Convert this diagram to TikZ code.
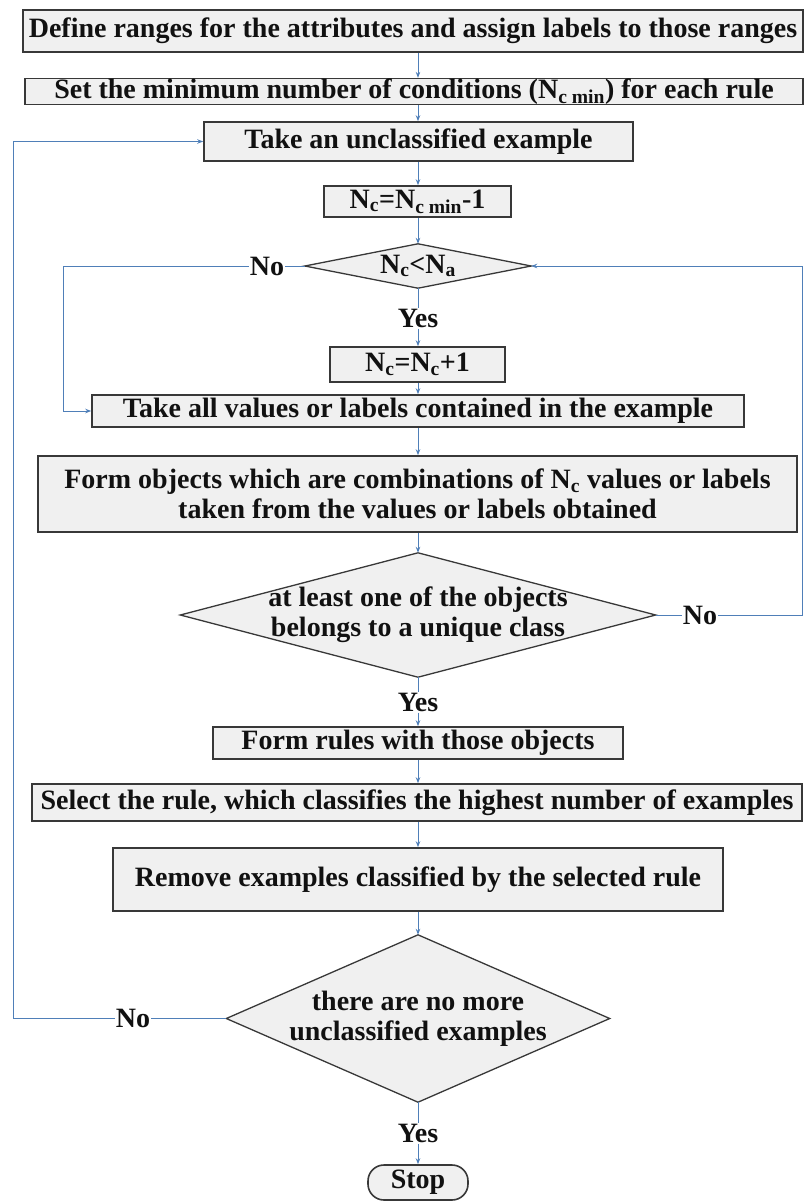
\documentclass[tikz,border=0pt]{standalone}
\usepackage{fontspec}
\setmainfont{Liberation Serif}
\usetikzlibrary{arrows.meta}
\definecolor{boxfill}{HTML}{F0F0F0}
\definecolor{boxline}{HTML}{383838}
\definecolor{linkblue}{HTML}{4F7FB8}
\definecolor{inktext}{HTML}{111111}
\newcommand{\sub}[1]{\textsubscript{#1}}
\begin{document}
\begin{tikzpicture}[x=1pt,y=-1pt,
  every node/.style={font=\fontsize{28}{30}\selectfont\bfseries, text=inktext, inner sep=0pt},
  procbox/.style={draw=boxline, fill=boxfill, line width=1.6pt, align=center},
  decframe/.style={draw=boxline, fill=boxfill, line width=1.3pt, line join=miter},
  answer/.style={inner sep=1pt},
  flow/.style={draw=linkblue, line width=1pt},
  arr/.style={flow, -{Stealth[length=6pt,width=4.5pt]}},
]
\useasboundingbox (0,0) rectangle (804,1202);

% guide lines for the connectors
\coordinate (axis) at (418,0);
\coordinate (leftin) at (63,0);
\coordinate (farleft) at (13,0);
\coordinate (rightrail) at (802,0);

% process boxes
\node[procbox, minimum width=780pt, minimum height=42pt] (define) at (413,31)
  {Define ranges for the attributes and assign labels to those ranges};
\node[procbox, minimum width=778pt, minimum height=25pt] (setmin) at (414,91.5)
  {Set the minimum number of conditions (N\sub{c min}) for each rule};
\node[procbox, minimum width=429pt, minimum height=39pt] (take) at (418.5,141.5)
  {Take an unclassified example};
\node[procbox, minimum width=187pt, minimum height=31pt] (init) at (417.5,201.5)
  {N\sub{c}=N\sub{c min}-1};

% decision 1
\node[minimum width=226pt, minimum height=44pt] (d1) at (418,266) {};
\draw[decframe] (d1.north) -- (d1.east) -- (d1.south) -- (d1.west) -- cycle;
\node (d1t) at (d1) {N\sub{c}<N\sub{a}};

\node[procbox, minimum width=175pt, minimum height=35pt] (incr) at (417.5,364.5)
  {N\sub{c}=N\sub{c}+1};
\node[procbox, minimum width=652pt, minimum height=32pt] (takeall) at (418,411)
  {Take all values or labels contained in the example};
\node[procbox, minimum width=759pt, minimum height=76pt] (form) at (417.5,494)
  {Form objects which are combinations of N\sub{c} values or labels\\
   taken from the values or labels obtained};

% decision 2
\node[minimum width=475pt, minimum height=124pt] (d2) at (418,615) {};
\draw[decframe] (d2.north) -- (d2.east) -- (d2.south) -- (d2.west) -- cycle;
\node[align=center] (d2t) at (d2) {at least one of the objects\\belongs to a unique class};

\node[procbox, minimum width=410pt, minimum height=32pt] (rules) at (418,743)
  {Form rules with those objects};
\node[procbox, minimum width=770pt, minimum height=37pt] (select) at (417,802.5)
  {Select the rule, which classifies the highest number of examples};
\node[procbox, minimum width=610pt, minimum height=63pt] (remove) at (418,879.5)
  {Remove examples classified by the selected rule};

% decision 3
\node[minimum width=383pt, minimum height=167pt] (d3) at (418,1018.5) {};
\draw[decframe] (d3.north) -- (d3.east) -- (d3.south) -- (d3.west) -- cycle;
\node[align=center] (d3t) at (d3) {there are no more\\unclassified examples};

\node[procbox, rounded corners=16pt, minimum width=100pt, minimum height=35pt] (stop) at (418,1182.5)
  {Stop};

% answer labels
\node[answer] (no1) at (267,266) {No};
\node[answer] (yes1) at (418,318) {Yes};
\node[answer] (no2) at (700,615) {No};
\node[answer] (yes2) at (418,702) {Yes};
\node[answer] (no3) at (133,1018.5) {No};
\node[answer] (yes3) at (418,1133) {Yes};

% main column
\draw[arr] (define.south -| axis) -- (setmin.north -| axis);
\draw[arr] (setmin.south -| axis) -- (take.north -| axis);
\draw[arr] (take.south -| axis) -- (init.north -| axis);
\draw[arr] (init.south -| axis) -- (d1.north);
\draw[flow] (d1.south) -- (yes1.north);
\draw[arr] (yes1.south) -- (incr.north -| axis);
\draw[arr] (incr.south -| axis) -- (takeall.north -| axis);
\draw[arr] (takeall.south -| axis) -- (form.north -| axis);
\draw[arr] (form.south -| axis) -- (d2.north);
\draw[flow] (d2.south) -- (yes2.north);
\draw[arr] (yes2.south) -- (rules.north -| axis);
\draw[arr] (rules.south -| axis) -- (select.north -| axis);
\draw[arr] (select.south -| axis) -- (remove.north -| axis);
\draw[arr] (remove.south -| axis) -- (d3.north);
\draw[flow] (d3.south) -- (yes3.north);
\draw[arr] (yes3.south) -- (stop.north);

% loops
\draw[flow] (d1.west) -- (no1.east);
\draw[arr] (no1.west) -- (no1.west -| leftin) -- (leftin |- takeall.west) -- (takeall.west);
\draw[flow] (d2.east) -- (no2.west);
\draw[arr] (no2.east) -- (no2.east -| rightrail) -- (rightrail |- d1.east) -- (d1.east);
\draw[flow] (d3.west) -- (no3.east);
\draw[arr] (no3.west) -- (no3.west -| farleft) -- (farleft |- take.west) -- (take.west);
\end{tikzpicture}
\end{document}
